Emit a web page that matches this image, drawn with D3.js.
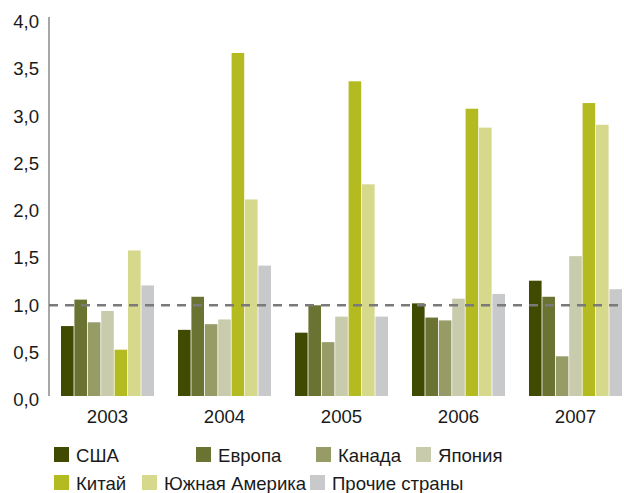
<!DOCTYPE html>
<html lang="ru">
<head>
<meta charset="utf-8">
<title>Chart</title>
<style>
  body { margin: 0; background: #fff; }
  svg { display: block; font-family: "Liberation Sans", Arial, sans-serif; }
</style>
</head>
<body>
<div id="chart"></div>
<script src="https://cdn.jsdelivr.net/npm/d3@7"></script>
<script>
// data
var years = ["2003", "2004", "2005", "2006", "2007"];
var regions = ["США", "Европа", "Канада", "Япония", "Китай", "Южная Америка", "Прочие страны"];
var usa      = [0.74, 0.70, 0.67, 0.98, 1.22];
var europe   = [1.02, 1.05, 0.96, 0.83, 1.05];
var canada   = [0.78, 0.76, 0.57, 0.80, 0.42];
var japan    = [0.90, 0.81, 0.84, 1.03, 1.48];
var china    = [0.49, 3.63, 3.33, 3.04, 3.10];
var southAm  = [1.54, 2.08, 2.24, 2.84, 2.87];
var others   = [1.17, 1.38, 0.84, 1.08, 1.13];
var yTicks = [0, 0.5, 1, 1.5, 2, 2.5, 3, 3.5, 4];
var refValue = 0.96;

var seriesValues = [usa, europe, canada, japan, china, southAm, others];
var colors = ["#404a00", "#6b7333", "#979c67", "#c8ccad", "#b3bb20", "#d6d88c", "#c8c9cb"];

var width = 624, height = 493;
var fontSize = 18.6;
var svg = d3.select("#chart").append("svg")
    .attr("width", width)
    .attr("height", height);

var x = d3.scaleBand()
    .domain(years)
    .range([49, 634])
    .paddingInner(0.205)
    .paddingOuter(0.1026);

var xInner = d3.scaleBand()
    .domain(regions)
    .range([0, x.bandwidth()])
    .paddingInner(0.06);

var y = d3.scaleLinear()
    .domain([0, 4])
    .range([396, 18]);

// y axis
svg.append("line")
    .attr("x1", 49).attr("x2", 49)
    .attr("y1", y(4) - 1).attr("y2", y(0))
    .attr("stroke", "#8a8a8a")
    .attr("stroke-width", 1.5);

svg.selectAll(".ytick")
    .data(yTicks)
    .enter().append("text")
    .attr("class", "ytick")
    .attr("x", 39)
    .attr("y", function(d) { return y(d) + 10; })
    .attr("text-anchor", "end")
    .attr("font-size", fontSize)
    .attr("fill", "#1a1a1a")
    .text(function(d) { return d3.format(".1f")(d).replace(".", ","); });

// bars
var groups = svg.selectAll(".year")
    .data(years)
    .enter().append("g")
    .attr("class", "year")
    .attr("transform", function(d) { return "translate(" + x(d) + ",0)"; });

groups.selectAll("rect")
    .data(function(d, i) {
        return regions.map(function(r, j) { return { region: r, value: seriesValues[j][i], idx: j }; });
    })
    .enter().append("rect")
    .attr("x", function(d) { return xInner(d.region); })
    .attr("width", xInner.bandwidth())
    .attr("y", function(d) { return y(d.value); })
    .attr("height", function(d) { return y(0) - y(d.value); })
    .attr("fill", function(d) { return colors[d.idx]; });

// year labels
svg.selectAll(".xlabel")
    .data(years)
    .enter().append("text")
    .attr("class", "xlabel")
    .attr("x", function(d) { return x(d) + x.bandwidth() / 2; })
    .attr("y", 423)
    .attr("text-anchor", "middle")
    .attr("font-size", fontSize)
    .attr("fill", "#1a1a1a")
    .text(function(d) { return d; });

// reference dashed line
svg.append("line")
    .attr("x1", 49).attr("x2", width)
    .attr("y1", y(refValue)).attr("y2", y(refValue))
    .attr("stroke", "#7a7a7a")
    .attr("stroke-width", 2.5)
    .attr("stroke-dasharray", "9,7");

// legend
var legendPos = [[54, 447], [196, 447], [316, 447], [416, 447], [54, 475], [142, 475], [310, 475]];
var legend = svg.selectAll(".legend")
    .data(regions)
    .enter().append("g")
    .attr("class", "legend")
    .attr("transform", function(d, i) { return "translate(" + legendPos[i][0] + "," + legendPos[i][1] + ")"; });

legend.append("rect")
    .attr("width", 15)
    .attr("height", 15)
    .attr("fill", function(d, i) { return colors[i]; });

legend.append("text")
    .attr("x", 22)
    .attr("y", 15)
    .attr("font-size", fontSize)
    .attr("fill", "#1a1a1a")
    .text(function(d) { return d; });
</script>
</body>
</html>
